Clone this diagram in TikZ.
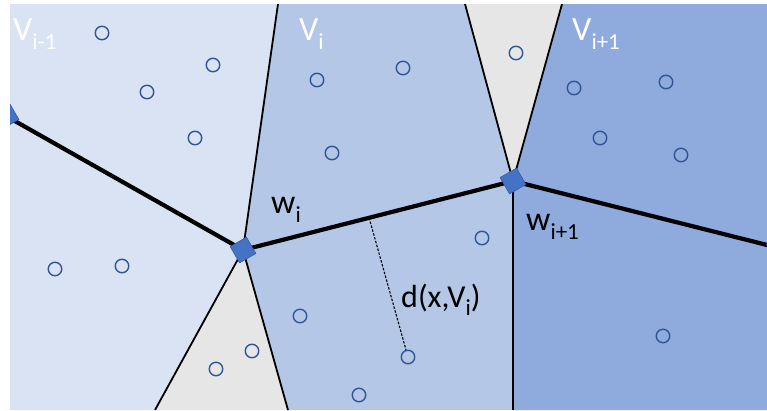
\documentclass[tikz,border=0pt]{standalone}
\usepackage{fontspec}
\setmainfont{Carlito}
\usetikzlibrary{calc}
\definecolor{cellprev}{HTML}{DAE3F3}
\definecolor{cellcur}{HTML}{B4C7E7}
\definecolor{cellnext}{HTML}{8FAADC}
\definecolor{cellgap}{HTML}{E7E6E6}
\definecolor{siteblue}{HTML}{2F5597}
\definecolor{vertexblue}{HTML}{4472C4}
\newcommand{\lowlab}[2]{#1\raisebox{-0.28em}{\fontsize{23}{23}\selectfont #2}}
\begin{document}
\begin{tikzpicture}[x=1pt, y=-1pt,
    site/.style={circle, draw=siteblue, line width=1.4pt, minimum size=13.5pt, inner sep=0pt},
    vertex/.style={draw=vertexblue!70!black, line width=0.4pt, fill=vertexblue, minimum size=19pt, inner sep=0pt, rotate=30},
    edge/.style={line width=4.2pt},
    wall/.style={line width=1.8pt},
    lab/.style={inner sep=0pt, anchor=base west, font=\fontsize{34}{40}\selectfont}]
    \useasboundingbox (0,0) rectangle (767,410);
    \clip (10,4) rectangle (767,410);
    % corner points of the cells
    \coordinate (wi) at (243,250);
    \coordinate (wj) at (513,181);
    \coordinate (wl) at (6,116);
    \coordinate (wr) at (779,248);
    \coordinate (ta) at (278,4);
    \coordinate (tb) at (465,4);
    \coordinate (tc) at (562,4);
    \coordinate (bd) at (155,410);
    \coordinate (be) at (288,410);
    \coordinate (bf) at (513,410);
    % cells
    \fill[cellprev] (10,4) -- (ta) -- (wi) -- (bd) -- (10,410) -- cycle;
    \fill[cellcur] (ta) -- (tb) -- (wj) -- (bf) -- (be) -- (wi) -- cycle;
    \fill[cellgap] (tb) -- (tc) -- (wj) -- cycle;
    \fill[cellgap] (wi) -- (bd) -- (be) -- cycle;
    \fill[cellnext] (tc) -- (767,4) -- (767,410) -- (bf) -- (wj) -- cycle;
    % walls
    \foreach \e in {ta,bd,be} \draw[wall] (wi) -- (\e);
    \foreach \e in {tb,tc,bf} \draw[wall] (wj) -- (\e);
    \draw[edge] (wl) -- (wi) -- (wj) -- (wr);
    % sites
    \foreach \x/\y [count=\n] in {102/33, 213/65, 147/92, 195/138, 55/269, 122/266,
        516/53, 317/80, 403/68, 332/153, 482/238, 300/316, 359/395,
        252/351, 216/369, 574/88, 666/82, 600/138, 681/155, 663/336}
        \node[site] (s\n) at (\x,\y) {};
    \node[site] (x) at (408,357) {};
    \coordinate (foot) at ($(wi)!0.467!(wj)$);
    \draw[dash pattern=on 2.5pt off 1.5pt, line width=1.1pt] (foot) -- (x);
    % vertices
    \node[vertex] (vl) at (wl) {};
    \node[vertex] (vi) at (wi) {};
    \node[vertex] (vj) at (wj) {};
    \node[vertex] (vr) at (wr) {};
    % labels
    \node[lab, white] (lprev) at (13,40) {\lowlab{V}{i-1}};
    \node[lab, white] (lcur) at (299,40) {\lowlab{V}{i}};
    \node[lab, white] (lnext) at (572,40) {\lowlab{V}{i+1}};
    \node[lab] (lwi) at (271,213) {\lowlab{w}{i}};
    \node[lab] (lwj) at (526,230) {\lowlab{w}{i+1}};
    \node[lab, font=\fontsize{32}{38}\selectfont] (ldist) at (401,307) {d(x,\lowlab{V}{i})};
\end{tikzpicture}
\end{document}
